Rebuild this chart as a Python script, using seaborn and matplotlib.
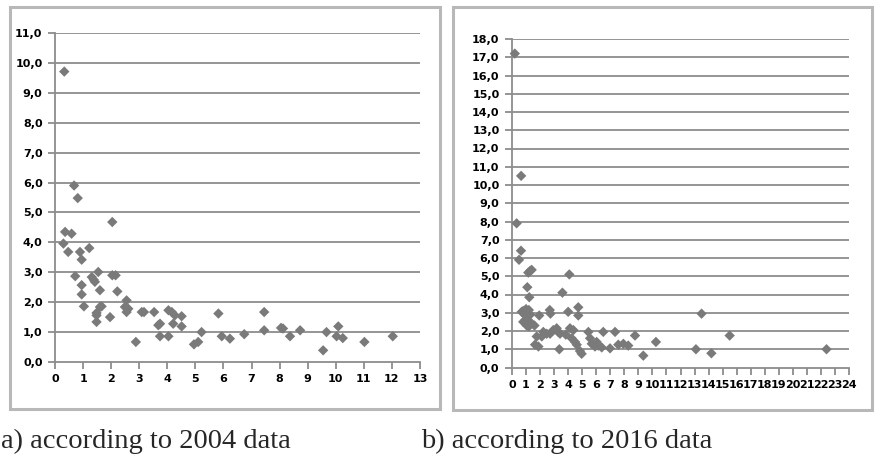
import matplotlib
matplotlib.use("Agg")
import matplotlib.pyplot as plt
import seaborn as sns
import pandas as pd
from matplotlib.patches import Rectangle

# ---- data ----
x_2004 = [0.33, 0.68, 0.81, 2.04, 0.36, 0.59, 0.30, 0.47, 0.89, 0.95, 1.22, 0.72, 0.95, 0.95,
          1.03, 1.31, 1.42, 1.38, 1.54, 1.60, 1.48, 1.48, 1.48, 1.60, 1.66, 1.96, 2.04, 2.16, 2.22,
          2.55, 2.49, 2.61, 2.55, 2.88, 3.09, 3.17, 3.53, 3.68, 3.74, 3.74, 4.04, 4.04, 4.16,
          4.21, 4.27, 4.51, 4.51, 4.95, 5.10, 5.22, 5.82, 5.94, 6.23, 6.74, 7.45, 7.45, 8.05,
          8.12, 8.37, 8.73, 9.55, 9.67, 10.09, 10.03, 10.25, 11.02, 12.03]
y_2004 = [9.71, 5.90, 5.48, 4.68, 4.35, 4.29, 3.96, 3.68, 3.68, 3.42, 3.81, 2.87, 2.57, 2.26,
          1.86, 2.84, 2.68, 2.75, 3.01, 2.40, 1.64, 1.56, 1.34, 1.84, 1.86, 1.50, 2.90, 2.90, 2.36,
          2.06, 1.84, 1.78, 1.67, 0.67, 1.67, 1.67, 1.67, 1.23, 1.28, 0.86, 0.86, 1.73, 1.67,
          1.28, 1.56, 1.53, 1.19, 0.59, 0.67, 1.00, 1.62, 0.86, 0.78, 0.93, 1.67, 1.06, 1.14,
          1.12, 0.86, 1.06, 0.39, 1.00, 1.19, 0.86, 0.80, 0.67, 0.86]

x_2016 = [0.2, 0.65, 0.33, 0.64, 0.5, 1.16, 1.4, 1.3, 4.08, 1.09, 1.23, 3.59, 0.69, 0.8, 1.0,
          1.2, 0.9, 1.1, 1.3, 0.8, 1.05, 1.2, 0.95, 1.35, 1.94, 2.69, 2.74, 4.0, 4.72, 4.72, 1.6,
          1.76, 1.64, 1.88, 2.12, 2.23, 2.47, 2.71, 2.94, 3.18, 3.3, 3.42, 3.37, 3.83, 4.13, 4.37,
          4.25, 4.49, 4.61, 4.84, 4.96, 5.44, 5.56, 5.68, 5.91, 6.03, 6.15, 6.39, 6.5, 6.98, 7.34,
          7.57, 7.93, 8.28, 8.76, 9.35, 10.25, 13.1, 13.5, 14.2, 15.5, 22.4]
y_2016 = [17.2, 10.5, 7.9, 6.4, 5.9, 5.2, 5.35, 5.3, 5.1, 4.4, 3.85, 4.1, 3.05, 3.1, 3.2,
          3.15, 2.9, 2.8, 2.9, 2.5, 2.3, 2.25, 2.6, 2.45, 2.85, 3.15, 2.95, 3.05, 3.3, 2.85, 2.3,
          1.7, 1.25, 1.15, 1.7, 1.95, 1.85, 1.85, 2.05, 2.15, 1.95, 1.85, 1.0, 1.8, 2.15, 2.05,
          1.6, 1.4, 1.25, 0.9, 0.75, 1.95, 1.6, 1.3, 1.15, 1.4, 1.2, 1.1, 1.95, 1.05, 1.95,
          1.25, 1.3, 1.2, 1.75, 0.65, 1.4, 1.0, 2.95, 0.78, 1.75, 1.0]

xticks_a = list(range(0, 14))
yticks_a = list(range(0, 12))
xticks_b = list(range(0, 25))
yticks_b = list(range(0, 19))
captions = ["a) according to 2004 data", "b) according to 2016 data"]

sns.set_theme(style="white")
plt.rcParams['font.family'] = ['DejaVu Sans']

W, H = 875, 459
fig = plt.figure(figsize=(W / 100, H / 100), dpi=100)

def fx(px):
    return px / W

def fy(py):
    return 1 - py / H

# panel frames
for (x0, y0, x1, y1) in [(10, 7, 440, 409), (453, 7, 872, 410)]:
    fig.patches.append(Rectangle((fx(x0), fy(y1)), fx(x1) - fx(x0), fy(y0) - fy(y1),
                                 transform=fig.transFigure, fill=False,
                                 edgecolor="#b8b8b8", linewidth=2.2, zorder=0))

ax1 = fig.add_axes([fx(55), fy(362), fx(420) - fx(55), fy(33) - fy(362)])
ax2 = fig.add_axes([fx(512), fy(367.5), fx(849) - fx(512), fy(39) - fy(367.5)])

df_a = pd.DataFrame({"x": x_2004, "y": y_2004})
df_b = pd.DataFrame({"x": x_2016, "y": y_2016})

for ax, df, xt, yt in [(ax1, df_a, xticks_a, yticks_a), (ax2, df_b, xticks_b, yticks_b)]:
    sns.scatterplot(data=df, x="x", y="y", ax=ax, marker="D", s=28, color="#7a7a7a",
                    edgecolor="none", zorder=3, clip_on=False)
    ax.set_xlim(xt[0], xt[-1])
    ax.set_ylim(yt[0], yt[-1])
    ax.set_xticks(xt)
    ax.set_yticks(yt)
    ax.set_xticklabels([str(v) for v in xt])
    ax.set_yticklabels([f"{v},0" for v in yt])
    for v in yt[1:]:
        ax.axhline(v, color="#8c8c8c", linewidth=1.3, zorder=1)
    ax.set_xlabel("")
    ax.set_ylabel("")
    for s in ["top", "right"]:
        ax.spines[s].set_visible(False)
    for s in ["left", "bottom"]:
        ax.spines[s].set_color("#8c8c8c")
        ax.spines[s].set_linewidth(1.3)
    ax.tick_params(axis="both", which="major", direction="out", length=5, width=1.3,
                   color="#8c8c8c", labelsize=8, pad=4, bottom=True, left=True)
    for lab in ax.get_xticklabels() + ax.get_yticklabels():
        lab.set_fontweight("bold")
        lab.set_color("black")
    ax.set_facecolor("white")

fig.text(fx(1), fy(448), captions[0], fontsize=20.5, family=["Liberation Serif"],
         va="baseline", ha="left")
fig.text(fx(421), fy(448), captions[1], fontsize=20.5, family=["Liberation Serif"],
         va="baseline", ha="left")

fig.savefig("out.png", dpi=100)
